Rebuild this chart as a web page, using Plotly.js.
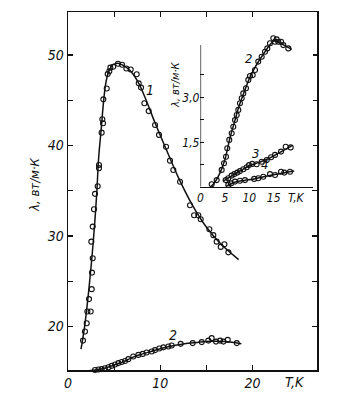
<!DOCTYPE html>
<html><head><meta charset="utf-8">
<script src="https://cdn.plot.ly/plotly-3.0.1.min.js"></script>
<style>body{margin:0;background:#fff}#chart{width:351px;height:410px}</style>
</head><body><div id="chart"></div>
<script>
// Main plot, curve 1 (measured points)
const c1T = [1.63,1.84,2.03,2.1,2.46,2.28,2.57,2.6,2.68,2.53,2.68,2.82,2.93,3.22,3.36,3.36,3.65,3.72,3.8,3.83,4.2,4.3,4.48,4.59,4.9,5.42,5.86,6.33,6.8,7.45,7.67,7.92,8.28,8.75,9.44,9.87,10.63,11.06,11.42,12.15,13.23,13.67,14.13,14.39,15.33,15.76,16.12,16.56,16.96,17.39];
const c1L = [18.45,19.45,20.37,21.66,21.66,23.03,24.13,25.96,27.55,29.38,31.04,32.96,34.66,35.5,37.5,37.85,41.42,42.9,42.46,45.1,46.3,47.9,48.2,48.6,48.7,49.04,48.93,48.5,48.4,47.87,46.87,46.4,44.67,43.8,42.27,41.17,39.87,38.33,37.3,36.0,33.4,32.3,32.3,31.86,30.75,30.1,29.38,28.8,29.1,28.2];
// Main plot, curve 1 (drawn curve)
const f1T = [1.41,1.8,2.3,2.75,3.11,3.32,3.6,3.85,4.1,4.45,4.9,5.4,6.0,6.8,7.6,8.4,9.4,10.6,12,13.5,15,16.5,18.5];
const f1L = [17.5,20.0,24.5,29.5,34.6,38.6,41.8,44.8,46.9,48.3,48.95,49.1,48.85,48.2,47.0,45.2,42.6,39.7,36.4,33.4,31.0,29.2,27.4];
// Main plot, curve 2
const c2T = [2.1,2.39,2.93,3.3,3.65,4.0,4.38,4.74,5.1,5.46,5.82,6.18,6.54,7.08,7.63,8.1,8.53,9.08,9.44,9.9,10.34,10.88,11.24,12.22,13.52,14.5,15.22,15.58,16.05,16.49,16.85,17.32,18.3];
const c2L = [15.14,15.14,15.2,15.25,15.3,15.4,15.5,15.66,15.8,15.96,16.08,16.2,16.4,16.69,16.87,16.98,17.13,17.24,17.4,17.57,17.7,17.8,17.9,18.09,18.17,18.28,18.45,18.72,18.34,18.45,18.34,18.53,18.17];
const f2T = [2.0,3,4,5,6,7,8,9,10,11,12,13,14,15,16,17,18,18.8];
const f2L = [15.1,15.2,15.4,15.75,16.1,16.6,16.95,17.25,17.55,17.8,18.0,18.15,18.25,18.35,18.38,18.35,18.25,18.1];
// Inset, curve 2
const i2T = [2.3,3.32,4.34,4.82,5.23,5.49,5.9,6.39,6.72,7.07,7.42,7.75,8.09,8.44,8.77,9.32,9.8,10.14,10.7,11.17,11.84,12.54,13.22,13.69,14.24,14.92,15.27,15.61,15.94,16.5,16.97,17.99];
const i2L = [0.10,0.24,0.58,0.80,1.02,1.30,1.58,1.80,2.02,2.24,2.41,2.58,2.80,2.97,3.13,3.30,3.58,3.71,3.74,3.91,4.19,4.35,4.52,4.63,4.80,4.97,4.85,4.93,4.85,4.85,4.74,4.63];
const g2T = [2.0,3,4,5,6,7,8,9,10,11,12,13,14,15,16,17,18.7];
const g2L = [0.0,0.18,0.48,0.92,1.62,2.2,2.75,3.2,3.62,3.95,4.22,4.47,4.7,4.88,4.86,4.75,4.6];
// Inset, curve 3
const i3T = [5.16,5.7,6.39,6.93,7.54,8.09,8.77,9.47,9.94,10.6,11.5,12.54,13.57,14.45,15.27,16.5,17.46,18.48];
const i3L = [0.24,0.30,0.39,0.44,0.49,0.54,0.60,0.67,0.74,0.78,0.77,0.85,0.91,1.0,1.08,1.19,1.35,1.33];
const g3T = [4.6,6,8,10,12,14,16,18.7];
const g3L = [0.2,0.34,0.53,0.72,0.83,0.96,1.14,1.38];
// Inset, curve 4
const i4T = [5.7,6.25,7.07,8.09,9.12,11.0,11.84,12.87,14.24,15.27,16.5,17.17,18.34];
const i4L = [0.08,0.13,0.19,0.22,0.24,0.28,0.30,0.35,0.44,0.41,0.52,0.49,0.52];
const g4T = [5.3,7,9,11,13,15,17,19.2];
const g4L = [0.04,0.17,0.23,0.28,0.35,0.42,0.48,0.54];
// Tick labels
const mainXTicks = [0,5,10,15,20];
const mainXText = ['0','','10','','20'];
const mainYTicks = [20,25,30,35,40,45,50];
const mainYText = ['20','','30','','40','','50'];
const insetXTicks = [0,5,10,15];
const insetXText = ['0','5','10','15'];
const insetYTicks = [0.75,1.5,2.25,3.0,3.75];
const insetYText = ['','1,5','','3,0',''];
const yTitle = 'λ, вт/м·К';
const xTitle = 'T,K';

const FONT = 'Liberation Sans Narrow, DejaVu Sans Condensed, Liberation Sans, sans-serif';
const ital = (s) => ({family: FONT, size: s, color: '#111', style: 'italic'});
const lineT = (x, y, xa, ya) => ({x, y, xaxis: xa, yaxis: ya, mode: 'lines', line: {color: '#111', width: 1.5, shape: 'spline'}, hoverinfo: 'skip'});
const ptsT = (x, y, xa, ya) => ({x, y, xaxis: xa, yaxis: ya, mode: 'markers', cliponaxis: false, marker: {symbol: 'circle-open', size: 5, color: '#111', line: {width: 1.1, color: '#111'}}});

const data = [
  lineT(f1T, f1L, 'x', 'y'), ptsT(c1T, c1L, 'x', 'y'),
  lineT(f2T, f2L, 'x', 'y'), ptsT(c2T, c2L, 'x', 'y'),
  lineT(g2T, g2L, 'x2', 'y2'), ptsT(i2T, i2L, 'x2', 'y2'),
  lineT(g3T, g3L, 'x2', 'y2'), ptsT(i3T, i3L, 'x2', 'y2'),
  lineT(g4T, g4L, 'x2', 'y2'), ptsT(i4T, i4L, 'x2', 'y2')
];

const layout = {
  width: 351, height: 410,
  margin: {l: 68, r: 34, t: 12, b: 40},
  paper_bgcolor: '#fff', plot_bgcolor: '#fff',
  showlegend: false,
  xaxis: {range: [0, 27], domain: [0, 1], showline: true, linecolor: '#111', linewidth: 1.5, mirror: 'ticks',
    ticks: 'inside', ticklen: 5, tickwidth: 1.2, tickcolor: '#111', tickvals: mainXTicks, ticktext: mainXText,
    tickfont: ital(14), showgrid: false, zeroline: false},
  yaxis: {range: [15.2, 54.75], domain: [0, 1], showline: true, linecolor: '#111', linewidth: 1.5, mirror: 'ticks',
    ticks: 'inside', ticklen: 5, tickwidth: 1.2, tickcolor: '#111', tickvals: mainYTicks, ticktext: mainYText,
    tickfont: ital(14), showgrid: false, zeroline: false},
  xaxis2: {anchor: 'y2', domain: [0.532, 0.984], range: [0, 23.05], showline: true, linecolor: '#111', linewidth: 1.3,
    ticks: '', tickvals: insetXTicks, ticktext: insetXText, tickfont: ital(12), showgrid: false, zeroline: false},
  yaxis2: {anchor: 'x2', domain: [0.512, 0.936], range: [0.02, 5.08], showline: false,
    ticks: 'inside', ticklen: 4, tickwidth: 1.2, tickcolor: '#111', tickvals: insetYTicks, ticktext: insetYText,
    tickfont: ital(12), showgrid: false, zeroline: false},
  shapes: [
    {type: 'line', xref: 'x2', yref: 'y2', x0: 0, x1: 0, y0: 0.02, y1: 4.74, line: {color: '#111', width: 1.3}}
  ],
  annotations: [
    {text: yTitle, xref: 'paper', yref: 'paper', x: -0.1325, y: 0.517, textangle: -90, showarrow: false, font: ital(13), xanchor: 'center', yanchor: 'middle'},
    {text: xTitle, xref: 'x', yref: 'paper', x: 24.6, y: -0.034, showarrow: false, font: ital(14), xanchor: 'center', yanchor: 'middle'},
    {text: yTitle, xref: 'paper', yref: 'paper', x: 0.43, y: 0.796, textangle: -90, showarrow: false, font: ital(11), xanchor: 'center', yanchor: 'middle'},
    {text: xTitle, xref: 'x2', yref: 'paper', x: 19.6, y: 0.48, showarrow: false, font: ital(12), xanchor: 'center', yanchor: 'middle'},
    {text: '1', xref: 'x', yref: 'y', x: 8.9, y: 46.1, showarrow: false, font: ital(14)},
    {text: '2', xref: 'x', yref: 'y', x: 11.36, y: 19.1, showarrow: false, font: ital(14)},
    {text: '2', xref: 'x2', yref: 'y2', x: 9.94, y: 4.31, showarrow: false, font: ital(13)},
    {text: '3', xref: 'x2', yref: 'y2', x: 11.17, y: 1.14, showarrow: false, font: ital(13)},
    {text: '4', xref: 'x2', yref: 'y2', x: 13.07, y: 0.77, showarrow: false, font: ital(13)}
  ]
};

Plotly.newPlot('chart', data, layout, {staticPlot: true, displayModeBar: false});
</script>
</body></html>
